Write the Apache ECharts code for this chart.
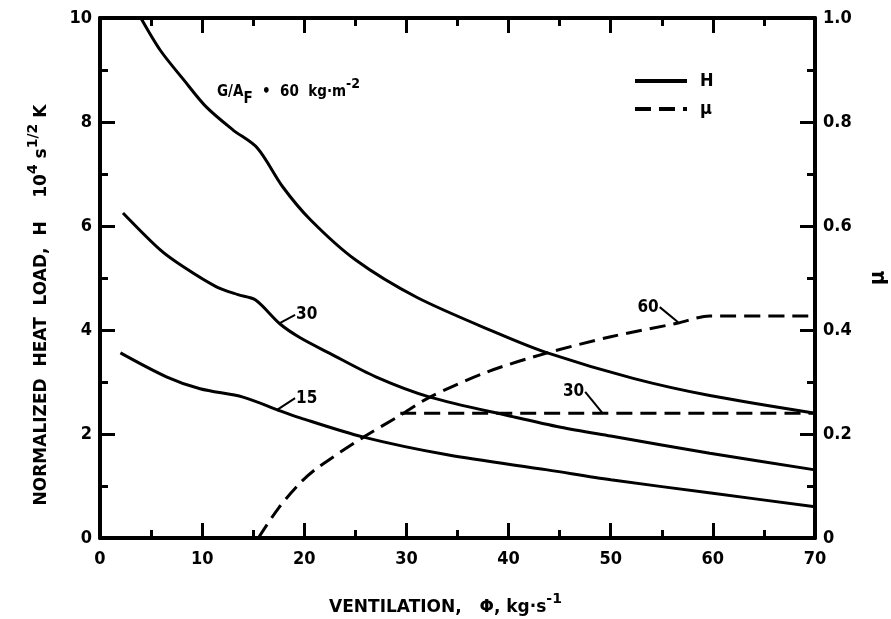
<!DOCTYPE html>
<html><head><meta charset="utf-8">
<script src="https://cdn.jsdelivr.net/npm/echarts@6/dist/echarts.min.js"></script>
<style>html,body{margin:0;padding:0;background:#fff}#c{width:891px;height:619px}</style>
</head><body><div id="c"></div>
<script>
// Axis ranges / ticks
const xRange = [0, 70];      // ventilation, kg/s
const hRange = [0, 10];      // normalized heat load
const muRange = [0, 1];      // mu
// Curves: [ventilation, value]
const h60 = [[4.0,10.0],[5.9,9.38],[8.2,8.81],[10.4,8.29],[13.0,7.85],[15.4,7.5],[17.9,6.75],[20.6,6.12],[25,5.35],[31,4.63],[38.9,3.94],[43.8,3.56],[52.2,3.07],[59.7,2.74],[70,2.40]];
const h30 = [[2.25,6.25],[5.9,5.54],[8.2,5.21],[11.4,4.83],[13.5,4.68],[15.2,4.58],[17.6,4.12],[19.6,3.85],[22.5,3.55],[27,3.1],[32.3,2.71],[40.5,2.33],[45.1,2.13],[50,1.96],[59.7,1.63],[70,1.31]];
const h15 = [[2.0,3.56],[6.5,3.1],[9.8,2.87],[14.0,2.71],[17.3,2.47],[19.6,2.31],[25.8,1.94],[34,1.6],[43.8,1.31],[50,1.12],[60,0.86],[70,0.60]];
const mu60 = [[15.5,0],[17.5,0.058],[19.6,0.106],[21.3,0.135],[25.8,0.194],[29.4,0.236],[32.3,0.271],[38,0.32],[43.8,0.356],[50,0.387],[56.5,0.413],[59.7,0.427],[70,0.427]];
const mu30 = [[29.4,0.24],[70,0.24]];
// Curve labels: [text, leader start, leader end]
const labelsH = [['30',[17.6,4.13],[19.1,4.29]],['15',[17.3,2.46],[19.1,2.69]]];
const labelsMu = [['60',[56.6,0.415],[54.8,0.444]],['30',[49.2,0.240],[47.5,0.281]]];

const F = '"DejaVu Sans Condensed","DejaVu Sans",sans-serif';
const FW = '"DejaVu Sans",sans-serif';
const txt = {fontFamily:F,fontWeight:'bold',color:'#000',fontSize:16,opacity:1};
const ttl = {fontFamily:FW,fontWeight:'bold',color:'#000',fontSize:17};
const chart = echarts.init(document.getElementById('c'));

const series = [];
[h60,h30,h15].forEach(d=>series.push({type:'line',name:'H',data:d,xAxisIndex:0,yAxisIndex:0,symbol:'none',smooth:0.3,lineStyle:{color:'#000',width:3},itemStyle:{color:'#000'},silent:true,z:3}));
[mu60,mu30].forEach(d=>series.push({type:'line',name:'μ',data:d,xAxisIndex:0,yAxisIndex:1,symbol:'none',smooth:0.3,lineStyle:{color:'#000',width:3,type:[16,8]},itemStyle:{color:'#000'},silent:true,z:3}));
function addLabels(list, yi, pos){
  list.forEach(([t,a,b])=>{
    series.push({type:'line',name:'leader',data:[a,b],xAxisIndex:0,yAxisIndex:yi,symbol:'none',lineStyle:{color:'#000',width:2},silent:true});
    series.push({type:'scatter',name:'lbl',data:[[b[0],b[1],t]],xAxisIndex:0,yAxisIndex:yi,symbolSize:0,silent:true,
      itemStyle:{opacity:1,color:'#000'},
      label:{show:true,position:pos,distance:1,formatter:p=>p.data[2],...txt,fontSize:17}});
  });
}
addLabels(labelsH,0,'right');
addLabels(labelsMu,1,'left');

const axisBase = {
  axisLine:{show:true,onZero:false,lineStyle:{color:'#000',width:4}},
  axisTick:{show:true,inside:true,length:15,lineStyle:{color:'#000',width:3}},
  minorTick:{show:true,splitNumber:2,length:8,lineStyle:{color:'#000',width:3}},
  splitLine:{show:false}
};

chart.setOption({
  backgroundColor:'#fff',
  animation:false,
  grid:{left:100,right:76,top:18,bottom:81,containLabel:false,outerBoundsMode:'none'},
  legend:{data:['H','μ'],orient:'vertical',left:628,top:67,itemWidth:52,itemHeight:16,itemGap:10,
    itemStyle:{opacity:0},lineStyle:{width:4},textStyle:{...txt,fontSize:18,padding:[0,0,0,8]},selectedMode:false},
  xAxis:[
    {type:'value',min:xRange[0],max:xRange[1],interval:10,position:'bottom',...axisBase,
     axisLabel:{...txt,fontSize:18,margin:12},
     name:'{t|VENTILATION,   Φ, kg·s}{s|-1}',nameLocation:'middle',nameGap:54,
     nameTextStyle:{padding:[0,24,0,0],rich:{t:{...ttl,lineHeight:24,verticalAlign:'bottom'},s:{...ttl,fontSize:14,lineHeight:8,verticalAlign:'top'}}}},
    {type:'value',min:xRange[0],max:xRange[1],interval:10,position:'top',...axisBase,axisLabel:{show:false}}
  ],
  yAxis:[
    {type:'value',min:hRange[0],max:hRange[1],interval:2,position:'left',...axisBase,
     axisLabel:{...txt,fontSize:18,margin:8},
     name:'{t|NORMALIZED  HEAT  LOAD,  H    10}{s|4}{t| s}{s|1/2}{t| K}',nameLocation:'middle',nameGap:50,nameRotate:90,
     nameTextStyle:{padding:[0,54,0,0],rich:{t:{...ttl,lineHeight:24,verticalAlign:'bottom'},s:{...ttl,fontSize:14,lineHeight:8,verticalAlign:'top'}}}},
    {type:'value',min:muRange[0],max:muRange[1],interval:0.2,position:'right',...axisBase,
     axisLabel:{...txt,fontSize:18,margin:8,formatter:v=>v===0?'0':v.toFixed(1)},
     name:'μ',nameLocation:'middle',nameGap:52,nameRotate:90,nameTextStyle:{...txt,fontSize:22}}
  ],
  graphic:[{type:'text',left:217,top:77,silent:true,style:{
    text:'{t|G/A}{b|F}{t|  •  60  kg·m}{s|-2}',
    rich:{t:{...txt,fontSize:15,lineHeight:30,verticalAlign:'middle'},b:{...txt,fontSize:15,verticalAlign:'bottom'},s:{...txt,fontSize:14,verticalAlign:'top'}}}}],
  series
});
</script></body></html>
